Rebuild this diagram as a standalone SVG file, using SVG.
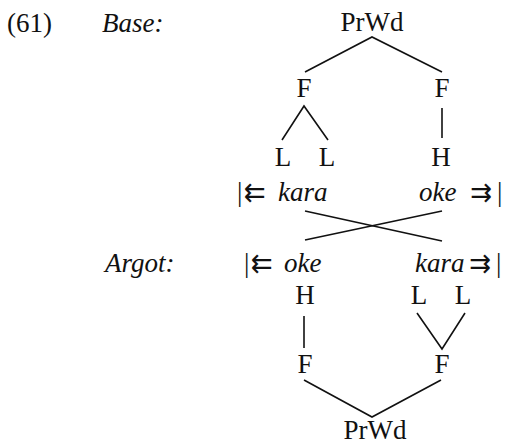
<svg xmlns="http://www.w3.org/2000/svg" width="507" height="446" viewBox="0 0 507 446">
<style>
text{font-family:"Liberation Serif","Times New Roman",serif;font-size:27px;fill:#111}
.c{text-anchor:middle}
.i{font-style:italic}
.a{font-family:"DejaVu Sans",sans-serif;font-size:26px}
.ln line,.ln polyline{stroke:#111;stroke-width:1.6;fill:none}
</style>
<rect width="507" height="446" fill="#fff"/>
<g id="label">
<text x="7" y="32">(61)</text>
<text x="102" y="32" class="i">Base:</text>
<text x="105" y="272" class="i">Argot:</text>
</g>
<g id="base-prwd"><text x="372" y="31" class="c">PrWd</text></g>
<g id="base-f1"><text x="304" y="97" class="c">F</text></g>
<g id="base-f2"><text x="442" y="97" class="c">F</text></g>
<g id="base-l1"><text x="283" y="166" class="c">L</text></g>
<g id="base-l2"><text x="327" y="166" class="c">L</text></g>
<g id="base-h"><text x="441" y="166" class="c">H</text></g>
<g id="base-kara"><text y="201"><tspan x="237">|</tspan><tspan x="244" class="a">⇇</tspan><tspan x="278" class="i">kara</tspan></text></g>
<g id="base-oke"><text y="201"><tspan x="419" class="i">oke</tspan><tspan x="470" class="a">⇉</tspan><tspan x="497">|</tspan></text></g>
<g id="argot-oke"><text y="272"><tspan x="244">|</tspan><tspan x="251" class="a">⇇</tspan><tspan x="284" class="i">oke</tspan></text></g>
<g id="argot-kara"><text y="272"><tspan x="415" class="i">kara</tspan><tspan x="469" class="a">⇉</tspan><tspan x="496">|</tspan></text></g>
<g id="argot-h"><text x="305" y="304" class="c">H</text></g>
<g id="argot-l1"><text x="419" y="304" class="c">L</text></g>
<g id="argot-l2"><text x="463" y="304" class="c">L</text></g>
<g id="argot-f1"><text x="305" y="373" class="c">F</text></g>
<g id="argot-f2"><text x="442" y="373" class="c">F</text></g>
<g id="argot-prwd"><text x="375" y="439" class="c">PrWd</text></g>
<g id="connectors" class="ln">
<polyline points="305,72 372,37 442,72"/>
<polyline points="282,140 304,106 328,140"/>
<line x1="442" y1="108" x2="442" y2="138"/>
<line x1="305" y1="211" x2="442" y2="241"/>
<line x1="442" y1="211" x2="305" y2="240"/>
<line x1="304" y1="316" x2="304" y2="348"/>
<polyline points="417,313 442,349 465,313"/>
<polyline points="304,380 372,417 441,380"/>
</g>
</svg>
